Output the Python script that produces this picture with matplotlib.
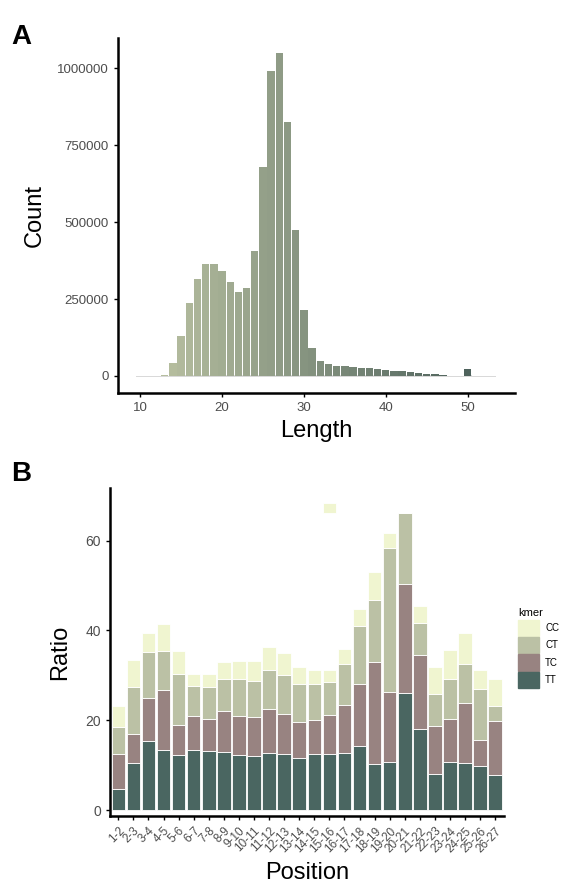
import matplotlib.pyplot as plt
import matplotlib.colors as mcolors
import numpy as np

plt.rcParams['font.family'] = ['Liberation Sans', 'DejaVu Sans']

# panel A: read length histogram
lengths = [10, 11, 12, 13, 14, 15, 16, 17, 18, 19, 20, 21, 22, 23, 24, 25, 26, 27,
           28, 29, 30, 31, 32, 33, 34, 35, 36, 37, 38, 39, 40, 41, 42, 43, 44, 45,
           46, 47, 48, 49, 50, 51, 52, 53]
counts = [1500, 1500, 1500, 3000, 41000, 131000, 238000, 316000, 363000, 365000,
          342000, 304000, 273000, 285000, 405000, 679000, 990000, 1048000, 824000,
          473000, 213000, 90000, 50000, 39000, 34000, 31000, 29000, 27000, 25000,
          22000, 19500, 17000, 15000, 12000, 10000, 7500, 5500, 3500, 1500, 1500,
          22000, 1500, 1500, 1500]

# panel B: kmer ratios per position
positions = ['1-2', '2-3', '3-4', '4-5', '5-6', '6-7', '7-8', '8-9', '9-10', '10-11',
             '11-12', '12-13', '13-14', '14-15', '15-16', '16-17', '17-18', '18-19',
             '19-20', '20-21', '21-22', '22-23', '23-24', '24-25', '25-26', '26-27']
kmers = ['CC', 'CT', 'TC', 'TT']
tt = [4.7, 10.4, 15.5, 13.5, 12.2, 13.4, 13.1, 13.0, 12.2, 12.0, 12.8, 12.4, 11.5,
      12.4, 12.6, 12.8, 14.3, 10.2, 10.8, 26.0, 18.0, 8.0, 10.8, 10.6, 9.8, 7.8]
tc = [7.8, 6.5, 9.5, 13.2, 6.7, 7.6, 7.3, 9.0, 8.7, 8.8, 9.8, 9.1, 8.2, 7.6, 8.5,
      10.6, 13.7, 22.8, 15.4, 24.3, 16.5, 10.7, 9.5, 13.3, 5.9, 12.0]
ct = [6.1, 10.6, 10.1, 8.8, 11.5, 6.6, 7.0, 7.3, 8.2, 8.0, 8.7, 8.6, 8.3, 8.0, 7.5,
      9.1, 13.0, 13.8, 32.2, 15.8, 7.1, 7.1, 8.9, 8.6, 11.2, 3.4]
cc = [4.6, 5.9, 4.4, 5.9, 5.0, 2.8, 3.0, 3.7, 4.1, 4.4, 5.1, 4.9, 3.9, 3.2, 2.7,
      3.3, 3.7, 6.3, 3.4, 0.0, 3.8, 6.0, 6.4, 7.0, 4.3, 6.1]
# stray CC segment drawn above position 15-16
cc_stray_pos = '15-16'
cc_stray_bottom = 66.1
cc_stray_height = 2.2

kmer_colors = {'TT': '#4a6661', 'TC': '#988381', 'CT': '#bbc1a5', 'CC': '#f0f5d0'}
grad = mcolors.LinearSegmentedColormap.from_list('g', ['#b6be9f', '#4e625c'])

fig = plt.figure(figsize=(5.73, 8.91), dpi=100)
tick_grey = '#4d4d4d'

# ---- A ----
axA = fig.add_axes([0.206, 0.559, 0.693, 0.3984])
norm = mcolors.Normalize(13, 50)
bar_cols = [grad(norm(min(max(x, 13), 50))) for x in lengths]
# faint baseline under the histogram (near-empty bins)
axA.bar(lengths, [min(c, 4000) for c in counts], width=1.0, bottom=-2000,
        color='#d9d9d9', linewidth=0)
axA.bar(lengths, counts, width=0.9, color=bar_cols, linewidth=0)
axA.set_xlim(7.3, 55.8)
axA.set_ylim(-55000, 1098000)
axA.set_xticks([10, 20, 30, 40, 50])
axA.set_yticks([0, 250000, 500000, 750000, 1000000])
axA.set_yticklabels(['0', '250000', '500000', '750000', '1000000'])
axA.set_xlabel('Length', fontsize=17, labelpad=4)
axA.set_ylabel('Count', fontsize=17, labelpad=8)
fig.text(0.02, 0.958, 'A', fontsize=20, fontweight='bold', va='center')

# ---- B ----
axB = fig.add_axes([0.192, 0.0842, 0.688, 0.368])
x = np.arange(len(positions))
bottom = np.zeros(len(positions))
for name, vals in [('TT', tt), ('TC', tc), ('CT', ct), ('CC', cc)]:
    axB.bar(x, vals, bottom=bottom, width=0.9, color=kmer_colors[name],
            edgecolor='white', linewidth=0.6, label=name)
    bottom = bottom + np.array(vals)
axB.bar(positions.index(cc_stray_pos), cc_stray_height, bottom=cc_stray_bottom,
        width=0.9, color=kmer_colors['CC'], edgecolor='white', linewidth=0.6)
axB.set_xlim(-0.55, 25.6)
axB.set_ylim(-1.3, 71.7)
axB.set_xticks(x)
axB.set_xticklabels(positions, rotation=45, ha='right', rotation_mode='anchor',
                    fontsize=8.5)
axB.set_yticks([0, 20, 40, 60])
axB.set_xlabel('Position', fontsize=17, labelpad=5)
axB.set_ylabel('Ratio', fontsize=17, labelpad=10)
fig.text(0.02, 0.468, 'B', fontsize=20, fontweight='bold', va='center')

handles = [plt.Rectangle((0, 0), 1, 1, color=kmer_colors[k]) for k in kmers]
leg = axB.legend(handles, kmers, title='kmer', loc='upper left',
                 bbox_to_anchor=(1.025, 0.645), frameon=False, fontsize=7,
                 title_fontsize=8, handlelength=2.2, handleheight=2.2,
                 labelspacing=0.12, handletextpad=0.6, borderaxespad=0)
leg._legend_box.align = 'left'

for ax in (axA, axB):
    for s in ('top', 'right'):
        ax.spines[s].set_visible(False)
    for s in ('left', 'bottom'):
        ax.spines[s].set_linewidth(1.8)
    ax.tick_params(colors='black', labelcolor=tick_grey, length=3, width=1)
axA.tick_params(labelsize=9.5)
axB.tick_params(axis='y', labelsize=10)

fig.savefig('out.png', dpi=100)
